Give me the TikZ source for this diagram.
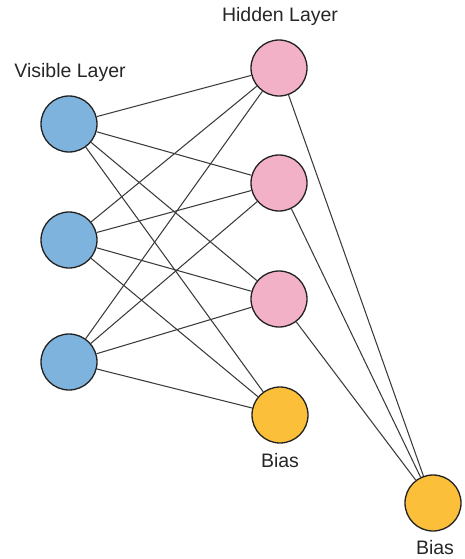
\documentclass[tikz,border=0pt]{standalone}
\usepackage{fontspec}
\setmainfont{Liberation Sans}
\definecolor{visblue}{HTML}{7EB3DD}
\definecolor{hidpink}{HTML}{F2B1C6}
\definecolor{biasyel}{HTML}{FBBF3A}
\definecolor{edgegray}{HTML}{3A3A3A}
\definecolor{rimgray}{HTML}{222222}
\begin{document}
\begin{tikzpicture}[x=1pt,y=-1pt,
  unit/.style={circle,draw=rimgray,line width=1.3pt,minimum size=56pt,inner sep=0pt},
  vis/.style={unit,fill=visblue},
  hid/.style={unit,fill=hidpink},
  bias/.style={unit,fill=biasyel},
  lbl/.style={font=\fontsize{19.5}{21}\selectfont,text=black!85,inner sep=0pt},
  edge/.style={draw=edgegray,line width=1.05pt}]
\useasboundingbox (0,0) rectangle (464,559);
\node[vis] (v1) at (69,124) {};
\node[vis] (v2) at (69,240) {};
\node[vis] (v3) at (69,362) {};
\node[hid] (h1) at (279,68) {};
\node[hid] (h2) at (279,183) {};
\node[hid] (h3) at (279,299) {};
\node[bias] (b1) at (280,415) {};
\node[bias] (b2) at (433,503) {};
\node[lbl] (lh) at (280,16) {Hidden Layer};
\node[lbl] (lv) at (70,72) {Visible Layer};
\node[lbl] (lb1) at (280,461) {Bias};
\node[lbl] (lb2) at (435,548) {Bias};
\foreach \v in {v1,v2,v3}{
  \foreach \h in {h1,h2,h3,b1}{
    \path[edge] (\v) -- (\h);
  }
}
\foreach \h in {h1,h2,h3}{
  \path[edge] (\h) -- (b2);
}
\end{tikzpicture}
\end{document}
